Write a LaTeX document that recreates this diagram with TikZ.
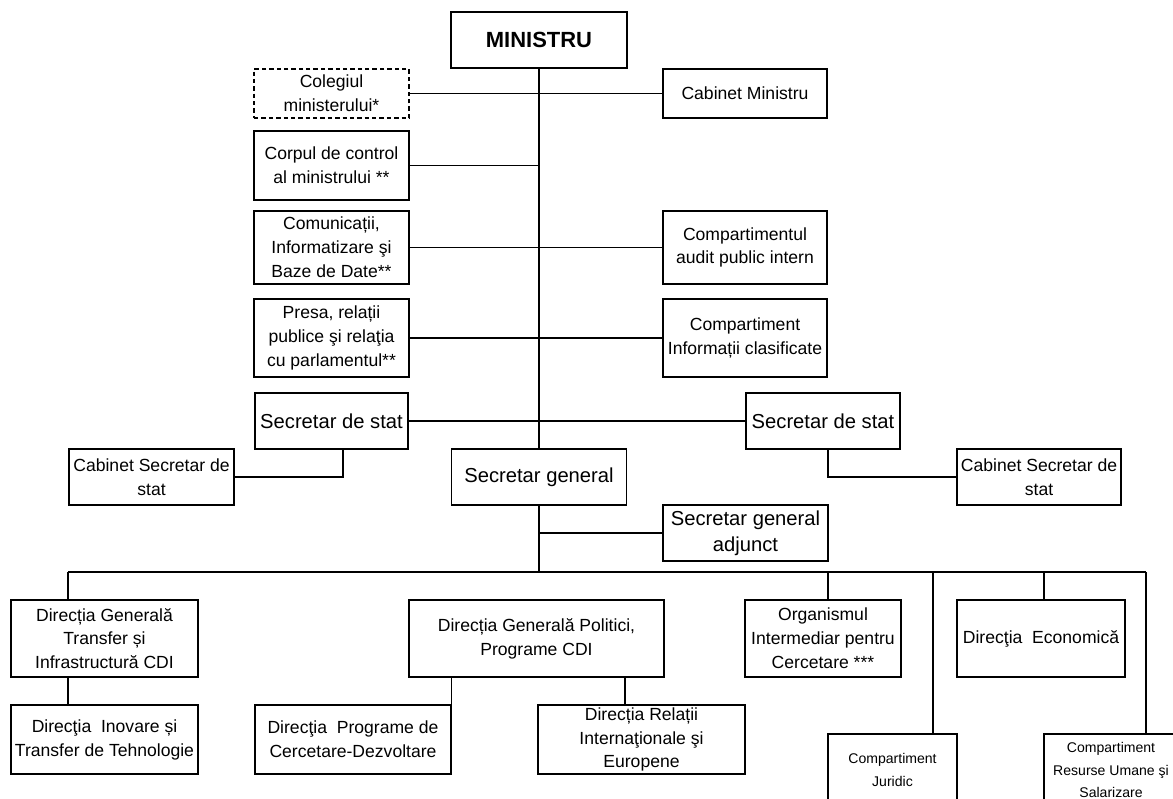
\documentclass[tikz,border=0pt]{standalone}
\usepackage{fontspec}
\setmainfont{Liberation Sans}

\begin{document}
\begin{tikzpicture}[x=0.02cm, y=-0.02cm, line width=0.7pt,
    box/.style={draw, align=center, inner sep=1pt, font=\fontsize{10}{13.6}\selectfont},
    big/.style={box, font=\fontsize{11.5}{15}\selectfont},
    small/.style={box, font=\fontsize{8}{13}\selectfont},
    sz/.style 2 args={minimum width=#1*0.02cm, minimum height=#2*0.02cm}]
        \useasboundingbox (0,0) rectangle (1173,798);

        \node[box, sz={176}{56}, font=\bfseries\fontsize{12.5}{15}\selectfont] (min) at (539,40) {MINISTRU};
        \node[box, sz={155}{49}, dash pattern=on 2.5pt off 1.7pt] (coleg) at (331.5,93.5) {Colegiul\\ministerului*};
        \node[box, sz={164}{49}] (cabm) at (745,93.5) {Cabinet Ministru};
        \node[box, sz={155}{69}] (corp) at (331.5,165.5) {Corpul de control\\al ministrului **};
        \node[box, sz={155}{73}] (comun) at (331.5,247.5) {Comunicații,\\Informatizare şi\\Baze de Date**};
        \node[box, sz={164}{73}] (audit) at (745,247.5) {Compartimentul\\audit public intern};
        \node[box, sz={155}{78}] (presa) at (331.5,338) {Presa, relații\\publice şi relaţia\\cu parlamentul**};
        \node[box, sz={164}{78}] (clasif) at (745,338) {Compartiment\\Informații clasificate};

        \node[big, sz={153}{56}] (ssl) at (331.5,421) {Secretar de stat};
        \node[big, sz={154}{56}] (ssr) at (823,421) {Secretar de stat};
        \node[box, sz={165}{56}] (cssl) at (151.5,477) {Cabinet Secretar de\\stat};
        \node[box, sz={164}{56}] (cssr) at (1039,477) {Cabinet Secretar de\\stat};
        \node[big, sz={175}{56}] (sg) at (539,477) {Secretar general};
        \node[big, sz={165}{56}] (sga) at (745.5,533) {Secretar general\\adjunct};

        \node[box, sz={187}{77}] (dgt) at (104.5,638.5) {Direcția Generală\\Transfer și\\Infrastructură CDI};
        \node[box, sz={187}{69}] (dit) at (104.5,739.5) {Direcţia\ \ Inovare și\\Transfer de Tehnologie};
        \node[box, sz={255}{77}] (pol) at (536.5,638.5) {Direcția Generală Politici,\\Programe CDI};
        \node[box, sz={196}{69}] (dpc) at (353,739.5) {Direcţia\ \ Programe de\\Cercetare-Dezvoltare};
        \node[box, sz={207}{69}] (drie) at (641.5,739.5) {Direcția Relații\\Internaţionale şi\\Europene};
        \node[box, sz={156}{77}] (oi) at (823,638.5) {Organismul\\Intermediar pentru\\Cercetare ***};
        \node[box, sz={168}{77}] (de) at (1041,638.5) {Direcţia\ \ Economică};
        \node[small, sz={129}{72}] (cj) at (892.5,770) {Compartiment\\Juridic};
        \node[small, sz={134}{72}] (crus) at (1111,770) {Compartiment\\Resurse Umane şi\\Salarizare};

        \coordinate (bus) at (539,572);
        \coordinate (b1) at (68,572);
        \coordinate (b2) at (828,572);
        \coordinate (b3) at (933,572);
        \coordinate (b4) at (1044,572);
        \coordinate (b5) at (1146,572);
        \coordinate (s1) at (343,477);
        \coordinate (s2) at (828,477);
        \coordinate (p2) at (625,691);

        \draw (min.south) -- (sg.north);
        \draw (sg.south) -- (bus);
        \draw (coleg.east) -- (cabm.west);
        \draw (corp.east) -- (corp.east -| min.south);
        \draw (comun.east) -- (audit.west);
        \draw (presa.east) -- (clasif.west);
        \draw (ssl.east) -- (ssr.west);
        \draw (s1 |- ssl.south) -- (s1) -- (cssl.east);
        \draw (s2 |- ssr.south) -- (s2) -- (cssr.west);
        \draw (sga.west -| bus) -- (sga.west);

        \draw (b1) -- (b5);
        \draw (b1) -- (b1 |- dgt.north);
        \draw (b1 |- dgt.south) -- (b1 |- dit.north);
        \draw (pol.south -| dpc.north east) -- (dpc.north east);
        \draw (p2 |- pol.south) -- (p2 |- drie.north);
        \draw (b2) -- (b2 |- oi.north);
        \draw (b3) -- (b3 |- cj.north);
        \draw (b4) -- (b4 |- de.north);
        \draw (b5) -- (b5 |- crus.north);
    \end{tikzpicture}
\end{document}
